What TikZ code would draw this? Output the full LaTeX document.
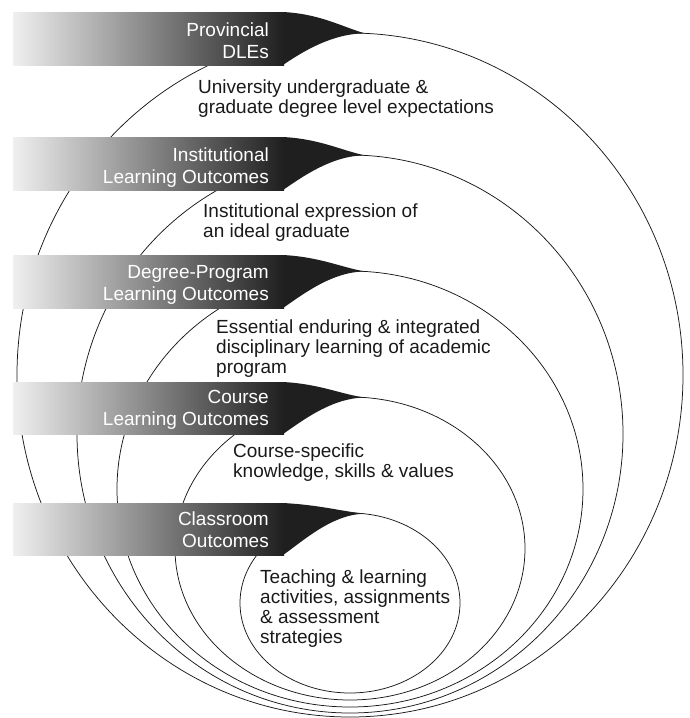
\documentclass[tikz,border=0pt]{standalone}
\usepackage{fontspec}
\setmainfont{Liberation Sans}
\begin{document}
\begin{tikzpicture}[x=1pt,y=-1pt,
  ring/.style={draw=black!90, line width=0.75pt},
  bannerbody/.style={left color=black!6, right color=black!88, draw=none},
  bannertail/.style={fill=black!88, draw=none},
  bannertext/.style={text=white, align=right, anchor=base east, inner sep=0pt, font=\fontsize{19}{22}\selectfont},
  desc/.style={text=black!90, align=left, anchor=base west, inner sep=0pt, font=\fontsize{19}{20}\selectfont}]
\useasboundingbox (0,0) rectangle (689,718);

% nested rings
\draw[ring] (350,375) ellipse [x radius=333, y radius=342];
\draw[ring] (350,434) ellipse [x radius=273, y radius=279];
\draw[ring] (350,489) ellipse [x radius=233, y radius=218];
\draw[ring] (350,548.5) ellipse [x radius=175, y radius=151.5];
\draw[ring] (350,603) ellipse [x radius=110, y radius=90];

% banners
\fill[bannerbody] (13,12) rectangle (284,65);
\fill[bannertail] (283,12) .. controls (320,14) and (340,26) .. (365,33.4) .. controls (332,33.4) and (302,52) .. (283,65) -- cycle;
\fill[bannerbody] (13,137) rectangle (284,190);
\fill[bannertail] (283,137) .. controls (320,139) and (340,150) .. (365,155.4) .. controls (332,155.4) and (302,177) .. (283,190) -- cycle;
\fill[bannerbody] (13,255) rectangle (284,308);
\fill[bannertail] (283,255) .. controls (320,257) and (340,267) .. (365,271.5) .. controls (332,271.5) and (302,295) .. (283,308) -- cycle;
\fill[bannerbody] (13,382) rectangle (284,434);
\fill[bannertail] (283,382) .. controls (320,384) and (340,394) .. (365,397.6) .. controls (332,397.6) and (302,421) .. (283,434) -- cycle;
\fill[bannerbody] (13,503) rectangle (284,555);
\fill[bannertail] (283,503) .. controls (320,505) and (340,511) .. (365,513.8) .. controls (332,513.8) and (302,542) .. (283,555) -- cycle;

% banner labels (anchor at baseline of last line)
\node[bannertext] (b1) at (269,58) {Provincial\\DLEs};
\node[bannertext] (b2) at (269,183) {Institutional\\Learning Outcomes};
\node[bannertext] (b3) at (269,300) {Degree-Program\\Learning Outcomes};
\node[bannertext] (b4) at (269,425) {Course\\Learning Outcomes};
\node[bannertext] (b5) at (269,547) {Classroom\\Outcomes};

% descriptions (anchor at baseline of last line)
\node[desc] (d1) at (198,113) {University undergraduate \&\\graduate degree level expectations};
\node[desc] (d2) at (203,237) {Institutional expression of\\an ideal graduate};
\node[desc] (d3) at (216,373) {Essential enduring \& integrated\\disciplinary learning of academic\\program};
\node[desc] (d4) at (233,477) {Course-specific\\knowledge, skills \& values};
\node[desc] (d5) at (260,643) {Teaching \& learning\\activities, assignments\\\& assessment\\strategies};
\end{tikzpicture}
\end{document}
